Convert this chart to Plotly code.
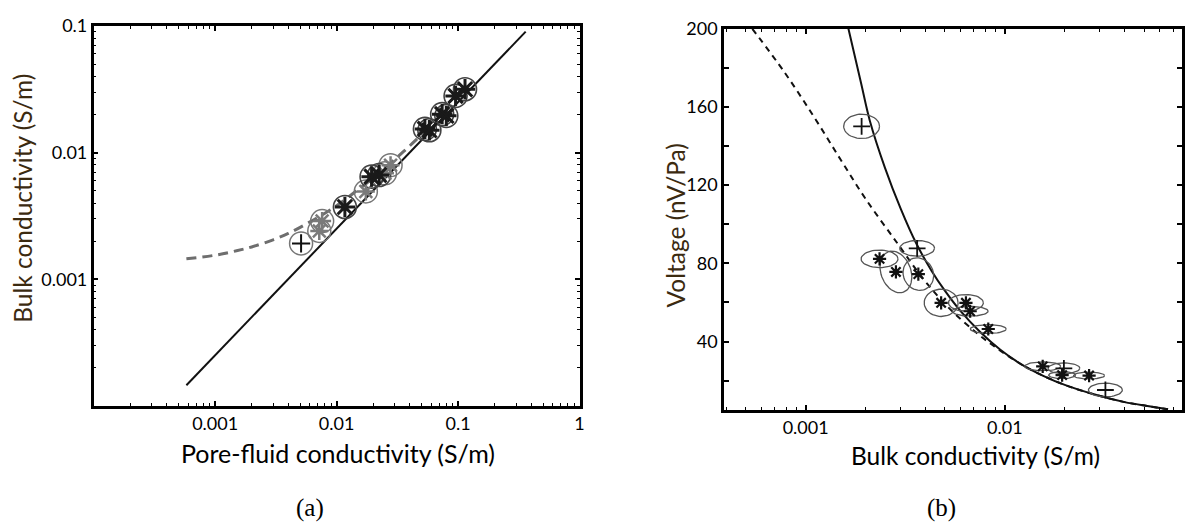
import math
import plotly.graph_objects as go

# ---------------- Panel (a) data ----------------
a_line_x = [0.00058, 0.36]
a_line_y = [0.000146, 0.090]
a_dash_x = [0.00058, 0.001, 0.0015, 0.002, 0.003, 0.004, 0.0055, 0.0075, 0.01, 0.015, 0.02, 0.03, 0.04, 0.055]
a_dash_y = [0.00145, 0.00155, 0.00168, 0.0018, 0.00205, 0.0023, 0.0027, 0.0032, 0.0038, 0.0051, 0.0063, 0.0088, 0.0113, 0.0151]
a_plus_x = [0.0051]
a_plus_y = [0.00192]
a_gray_x = [0.0076, 0.0072, 0.0174, 0.0250, 0.0278]
a_gray_y = [0.00288, 0.00241, 0.00494, 0.00686, 0.00796]
a_dark_x = [0.0117, 0.0194, 0.0224, 0.0533, 0.0580, 0.0739, 0.0800, 0.0953, 0.114]
a_dark_y = [0.00372, 0.00646, 0.00665, 0.01538, 0.0150, 0.0201, 0.0195, 0.0280, 0.0316]
a_xticks = [0.0001, 0.001, 0.01, 0.1, 1]
a_xtext = ["", "0.001", "0.01", "0.1", "1"]
a_yticks = [0.0001, 0.001, 0.01, 0.1]
a_ytext = ["", "0.001", "0.01", "0.1"]

# ---------------- Panel (b) data ----------------
b_solid_x = [0.00164, 0.0019, 0.0021, 0.0025, 0.003, 0.0036, 0.0043, 0.005, 0.006, 0.0075, 0.0095,
             0.012, 0.0155, 0.02, 0.028, 0.04, 0.052, 0.066]
b_solid_y = [200, 172, 153, 129, 108, 90, 76, 66, 55.5, 45, 35.8, 28.6, 22.6, 17.8, 13, 9, 7, 5.3]
b_dash_x = [0.00054, 0.00078, 0.0011, 0.0015, 0.002, 0.0029, 0.0039, 0.0052, 0.0073, 0.0093, 0.012,
            0.0155, 0.02, 0.028, 0.04, 0.052, 0.066]
b_dash_y = [200, 178, 155, 133, 113, 90, 72, 57.5, 44, 36, 28.5, 22.6, 17.8, 13, 9, 7, 5.3]
b_plus_x = [0.00191, 0.00363, 0.0198, 0.0320]
b_plus_y = [150.1, 87.7, 26.3, 15.2]
b_ast_x = [0.00235, 0.00284, 0.00368, 0.00479, 0.00638, 0.0067, 0.00826, 0.0155, 0.0194, 0.0265]
b_ast_y = [82.3, 75.6, 74.5, 59.8, 59.8, 55.5, 46.4, 27.3, 22.8, 22.6]
b_xticks = [0.001, 0.01]
b_xtext = ["0.001", "0.01"]
b_yticks = [20, 40, 60, 80, 100, 120, 140, 160, 180, 200]
b_ytext = ["", "40", "", "80", "", "120", "", "160", "", "200"]

# error-ellipse sizes (pixels) and tilt (degrees) for panel (b)
b_plus_ew = [36, 35, 32, 34]
b_plus_eh = [25, 16, 11, 14]
b_plus_ea = [0, 0, 0, 0]
b_ast_ew = [37, 30, 30, 34, 35, 36, 36, 36, 27, 31]
b_ast_eh = [18, 44, 34, 28, 17, 10, 9, 9, 7, 7]
b_ast_ea = [0, 20, 25, 0, 0, 0, 0, 0, 0, 0]

W, H = 1193, 528
OFF = 8  # page body margin offset
FONT = "Lato"
TITLE_COLOR = "#3b2a10"


def fx(px):
    return (px - OFF) / W


def fy(py):
    return 1 - (py - OFF) / H


# panel geometry (target pixels in the photographed page)
A_L, A_R, A_T, A_B = 94, 582, 14, 403
B_L, B_R, B_T, B_B = 727, 1187, 17, 407
B_XR = [-3.41, -1.11]
B_YR = [5, 200]
PX_PER_DEC_B = (B_R - B_L) / (B_XR[1] - B_XR[0])
PX_PER_UNIT_B = (B_B - B_T) / (B_YR[1] - B_YR[0])

fig = go.Figure()

# ---- panel a traces
fig.add_trace(go.Scatter(x=a_dash_x, y=a_dash_y, mode="lines", line=dict(color="#6e6e6e", width=3, dash="10px,6px"),
                         line_shape="spline", xaxis="x", yaxis="y", hoverinfo="skip"))
fig.add_trace(go.Scatter(x=a_line_x, y=a_line_y, mode="lines", line=dict(color="#111", width=2),
                         xaxis="x", yaxis="y", hoverinfo="skip"))
fig.add_trace(go.Scatter(x=a_gray_x + a_plus_x, y=a_gray_y + a_plus_y, mode="markers",
                         marker=dict(symbol="circle-open", size=23, color="#777", line=dict(width=1.5)),
                         xaxis="x", yaxis="y", hoverinfo="skip"))
fig.add_trace(go.Scatter(x=a_dark_x, y=a_dark_y, mode="markers",
                         marker=dict(symbol="circle-open", size=23, color="#444", line=dict(width=1.6)),
                         xaxis="x", yaxis="y", hoverinfo="skip"))
fig.add_trace(go.Scatter(x=a_gray_x, y=a_gray_y, mode="markers",
                         marker=dict(symbol="asterisk-open", size=15, color="#7a7a7a", line=dict(width=2.5)),
                         xaxis="x", yaxis="y", hoverinfo="skip"))
fig.add_trace(go.Scatter(x=a_dark_x, y=a_dark_y, mode="markers",
                         marker=dict(symbol="asterisk-open", size=17, color="#1a1a1a", line=dict(width=3)),
                         xaxis="x", yaxis="y", hoverinfo="skip"))
fig.add_trace(go.Scatter(x=a_dark_x, y=a_dark_y, mode="markers",
                         marker=dict(symbol="x-thin-open", size=12, color="#1a1a1a", line=dict(width=2)),
                         xaxis="x", yaxis="y", hoverinfo="skip"))
fig.add_trace(go.Scatter(x=a_plus_x, y=a_plus_y, mode="markers",
                         marker=dict(symbol="cross-thin-open", size=13, color="#111", line=dict(width=2)),
                         xaxis="x", yaxis="y", hoverinfo="skip"))

# ---- panel b traces
fig.add_trace(go.Scatter(x=b_dash_x, y=b_dash_y, mode="lines", line=dict(color="#111", width=2, dash="6px,5px"),
                         line_shape="spline", xaxis="x2", yaxis="y2", hoverinfo="skip"))
fig.add_trace(go.Scatter(x=b_solid_x, y=b_solid_y, mode="lines", line=dict(color="#111", width=2),
                         line_shape="spline", xaxis="x2", yaxis="y2", hoverinfo="skip"))

# error ellipses (drawn in data space of the log/linear axes)
ex, ey = [], []
N = 48
for xs, ys, ws, hs, angs in [(b_plus_x, b_plus_y, b_plus_ew, b_plus_eh, b_plus_ea),
                             (b_ast_x, b_ast_y, b_ast_ew, b_ast_eh, b_ast_ea)]:
    for xc, yc, w, h, ang in zip(xs, ys, ws, hs, angs):
        th = math.radians(ang)
        for i in range(N + 1):
            t = 2 * math.pi * i / N
            dx = (w / 2) * math.cos(t) * math.cos(th) - (h / 2) * math.sin(t) * math.sin(th)
            dy = (w / 2) * math.cos(t) * math.sin(th) + (h / 2) * math.sin(t) * math.cos(th)
            ex.append(xc * 10 ** (dx / PX_PER_DEC_B))
            ey.append(yc + dy / PX_PER_UNIT_B)
        ex.append(None)
        ey.append(None)
fig.add_trace(go.Scatter(x=ex, y=ey, mode="lines", line=dict(color="#555", width=1.3),
                         xaxis="x2", yaxis="y2", hoverinfo="skip"))

fig.add_trace(go.Scatter(x=b_ast_x, y=b_ast_y, mode="markers",
                         marker=dict(symbol="asterisk-open", size=11, color="#111", line=dict(width=2.2)),
                         xaxis="x2", yaxis="y2", hoverinfo="skip"))
fig.add_trace(go.Scatter(x=b_plus_x, y=b_plus_y, mode="markers",
                         marker=dict(symbol="cross-thin-open", size=12, color="#111", line=dict(width=1.8)),
                         xaxis="x2", yaxis="y2", hoverinfo="skip"))


def minor_vals(lo, hi):
    vals = []
    d = 10.0 ** lo
    while d < 10.0 ** hi:
        for k in range(2, 10):
            vals.append(round(d * k, 12))
        d *= 10
    return vals


axis_common = dict(showline=True, linecolor="black", linewidth=2.5, mirror="ticks", ticks="inside",
                   ticklen=5, tickwidth=1.5, tickcolor="black", showgrid=False, zeroline=False,
                   ticklabeloverflow="allow",
                   tickfont=dict(family=FONT, size=18, color="black"))
minor_common = dict(tickmode="array", ticks="inside", ticklen=3, tickwidth=1.3, tickcolor="black", showgrid=False)

fig.update_layout(
    width=W, height=H, margin=dict(l=0, r=0, t=0, b=0),
    paper_bgcolor="white", plot_bgcolor="white", showlegend=False,
    xaxis=dict(type="log", range=[-4, 0], domain=[fx(A_L), fx(A_R)], anchor="y",
               tickmode="array", tickvals=a_xticks, ticktext=a_xtext,
               minor=dict(tickvals=minor_vals(-4, 0), **minor_common), **axis_common),
    yaxis=dict(type="log", range=[-4, -1], domain=[fy(A_B), fy(A_T)], anchor="x",
               tickmode="array", tickvals=a_yticks, ticktext=a_ytext,
               minor=dict(tickvals=minor_vals(-4, -1), **minor_common), **axis_common),
    xaxis2=dict(type="log", range=B_XR, domain=[fx(B_L), fx(B_R)], anchor="y2",
                tickmode="array", tickvals=b_xticks, ticktext=b_xtext,
                minor=dict(tickvals=minor_vals(-4, -1), **minor_common), **axis_common),
    yaxis2=dict(range=B_YR, domain=[fy(B_B), fy(B_T)], anchor="x2",
                tickmode="array", tickvals=b_yticks, ticktext=b_ytext, **axis_common),
)

ann = [
    dict(text="Pore-fluid conductivity (S/m)", x=fx(339), y=fy(451), font=dict(family=FONT, size=25, color="black")),
    dict(text="Bulk conductivity (S/m)", x=fx(23), y=fy(190), textangle=-90,
         font=dict(family=FONT, size=24.5, color=TITLE_COLOR)),
    dict(text="Bulk conductivity (S/m)", x=fx(980), y=fy(454), font=dict(family=FONT, size=24.5, color="black")),
    dict(text="Voltage (nV/Pa)", x=fx(678), y=fy(218), textangle=-90,
         font=dict(family=FONT, size=24.5, color=TITLE_COLOR)),
    dict(text="(a)", x=fx(311), y=fy(507), font=dict(family="Liberation Serif", size=25, color="black")),
    dict(text="(b)", x=fx(945), y=fy(507), font=dict(family="Liberation Serif", size=25, color="black")),
]
for a in ann:
    a.update(xref="paper", yref="paper", showarrow=False, xanchor="center", yanchor="middle", borderpad=0)
fig.update_layout(annotations=ann)

fig.write_html("out.html")
